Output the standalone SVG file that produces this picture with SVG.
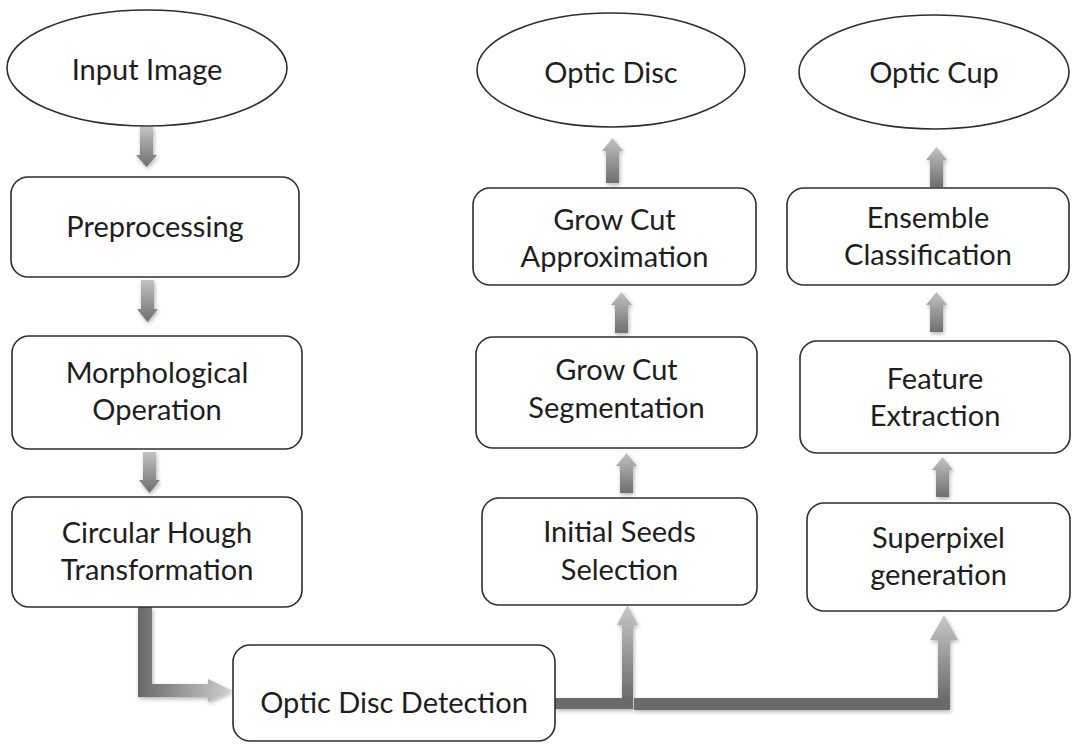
<svg xmlns="http://www.w3.org/2000/svg" width="1074" height="756" viewBox="0 0 1074 756">
<defs>
<style>
.box{fill:#ffffff;stroke:#2e2e2e;stroke-width:1.6}
.t{font-family:Lato,"Open Sans","Liberation Sans",sans-serif;font-size:29px;fill:#1e1e1e;text-anchor:middle}
.arr{fill:url(#gv);filter:url(#soft)}
</style>
<linearGradient id="gv" x1="0" y1="0" x2="0" y2="1">
<stop offset="0" stop-color="#c2c2c2"/>
<stop offset="1" stop-color="#6e6e6e"/>
</linearGradient>
<linearGradient id="gh" gradientUnits="userSpaceOnUse" x1="138" y1="0" x2="232" y2="0">
<stop offset="0" stop-color="#686868"/>
<stop offset="1" stop-color="#cfcfcf"/>
</linearGradient>
<linearGradient id="gu1" gradientUnits="userSpaceOnUse" x1="0" y1="605" x2="0" y2="700">
<stop offset="0" stop-color="#c8c8c8"/>
<stop offset="1" stop-color="#6a6a6a"/>
</linearGradient>
<linearGradient id="gu2" gradientUnits="userSpaceOnUse" x1="0" y1="615" x2="0" y2="700">
<stop offset="0" stop-color="#c8c8c8"/>
<stop offset="1" stop-color="#6a6a6a"/>
</linearGradient>
<filter id="soft" x="-50%" y="-50%" width="200%" height="200%">
<feGaussianBlur in="SourceAlpha" stdDeviation="2"/>
<feOffset dx="1" dy="1.5" result="b"/>
<feComponentTransfer in="b" result="s"><feFuncA type="linear" slope="0.3"/></feComponentTransfer>
<feGaussianBlur in="SourceGraphic" stdDeviation="0.7" result="g"/>
<feMerge><feMergeNode in="s"/><feMergeNode in="g"/></feMerge>
</filter>
</defs>
<rect width="1074" height="756" fill="#ffffff"/>

<g id="connectors">
<path class="arr" d="M140,127 L153,127 L153,155 L157,155 L146.5,167 L136,155 L140,155 Z"/>
<path class="arr" d="M141,280 L154,280 L154,309 L158,309 L147.5,322 L137,309 L141,309 Z"/>
<path class="arr" d="M143,452 L156,452 L156,480 L160,480 L149.5,493 L139,480 L143,480 Z"/>
<path class="arr" d="M606,183 L619,183 L619,151 L623,151 L612.5,138 L602,151 L606,151 Z"/>
<path class="arr" d="M615,333 L628,333 L628,305 L632,305 L621.5,292 L611,305 L615,305 Z"/>
<path class="arr" d="M620,493 L633,493 L633,466 L637,466 L626.5,453 L616,466 L620,466 Z"/>
<path class="arr" d="M930,187 L943,187 L943,160 L947,160 L936.5,147 L926,160 L930,160 Z"/>
<path class="arr" d="M930,332 L943,332 L943,305 L947,305 L936.5,292 L926,305 L930,305 Z"/>
<path class="arr" d="M936,497 L949,497 L949,470 L953,470 L942.5,457 L932,470 L936,470 Z"/>
<path fill="url(#gh)" filter="url(#soft)" d="M138,607 L152,607 L152,684 L208,684 L208,679 L232,690.5 L208,702 L208,697 L138,697 Z"/>
<path fill="url(#gu1)" filter="url(#soft)" d="M555,698 L622,698 L622,625 L617,625 L627.5,605 L638,625 L633,625 L633,709 L555,709 Z"/>
<path fill="url(#gu2)" filter="url(#soft)" d="M634,698 L938,698 L938,640 L930,640 L944,615 L958,640 L950,640 L950,710 L634,710 Z"/>
</g>

<g id="input-image">
<ellipse class="box" cx="147" cy="68" rx="140" ry="58"/>
<text class="t" x="147" y="80">Input Image</text>
</g>
<g id="preprocessing">
<rect class="box" x="11" y="177" width="288" height="100" rx="17"/>
<text class="t" x="155" y="237">Preprocessing</text>
</g>
<g id="morphological">
<rect class="box" x="12" y="336" width="290" height="113" rx="17"/>
<text class="t" x="157" y="383">Morphological</text>
<text class="t" x="157" y="420">Operation</text>
</g>
<g id="circular-hough">
<rect class="box" x="12" y="497" width="290" height="110" rx="17"/>
<text class="t" x="157" y="543">Circular Hough</text>
<text class="t" x="157" y="580">Transformation</text>
</g>
<g id="optic-disc-detection">
<rect class="box" x="233" y="645" width="322" height="96" rx="17"/>
<text class="t" x="394" y="713">Optic Disc Detection</text>
</g>
<g id="optic-disc">
<ellipse class="box" cx="611" cy="70" rx="134" ry="57"/>
<text class="t" x="611" y="83">Optic Disc</text>
</g>
<g id="grow-cut-approximation">
<rect class="box" x="473" y="188" width="283" height="97" rx="17"/>
<text class="t" x="614.5" y="230">Grow Cut</text>
<text class="t" x="614.5" y="267">Approximation</text>
</g>
<g id="grow-cut-segmentation">
<rect class="box" x="476" y="337" width="281" height="111" rx="17"/>
<text class="t" x="616.5" y="380">Grow Cut</text>
<text class="t" x="616.5" y="418">Segmentation</text>
</g>
<g id="initial-seeds">
<rect class="box" x="482" y="498" width="275" height="107" rx="17"/>
<text class="t" x="619.5" y="542">Initial Seeds</text>
<text class="t" x="619.5" y="580">Selection</text>
</g>
<g id="optic-cup">
<ellipse class="box" cx="934" cy="72" rx="135" ry="57"/>
<text class="t" x="934" y="83">Optic Cup</text>
</g>
<g id="ensemble-classification">
<rect class="box" x="787" y="188" width="282" height="97" rx="17"/>
<text class="t" x="928" y="228">Ensemble</text>
<text class="t" x="928" y="265">Classification</text>
</g>
<g id="feature-extraction">
<rect class="box" x="800" y="341" width="270" height="112" rx="17"/>
<text class="t" x="935" y="389">Feature</text>
<text class="t" x="935" y="426">Extraction</text>
</g>
<g id="superpixel-generation">
<rect class="box" x="807" y="503" width="263" height="108" rx="17"/>
<text class="t" x="938.5" y="548">Superpixel</text>
<text class="t" x="938.5" y="585">generation</text>
</g>
</svg>
